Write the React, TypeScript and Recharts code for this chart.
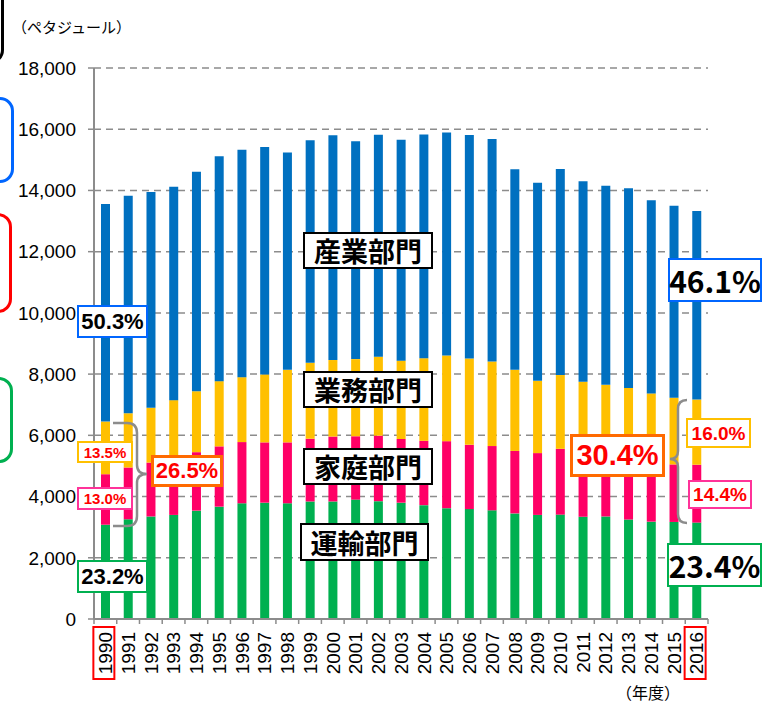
import React from "react";
import { BarChart, Bar, XAxis, YAxis, CartesianGrid } from "recharts";

// energy consumption by sector, petajoules, fiscal years 1990-2016
const years = [
  "1990", "1991", "1992", "1993", "1994", "1995", "1996", "1997", "1998", "1999",
  "2000", "2001", "2002", "2003", "2004", "2005", "2006", "2007", "2008", "2009",
  "2010", "2011", "2012", "2013", "2014", "2015", "2016",
];
const transport = [
  3080, 3260, 3350, 3400, 3540, 3670, 3780, 3800, 3780, 3840,
  3840, 3900, 3850, 3800, 3720, 3620, 3590, 3550, 3450, 3400,
  3410, 3340, 3350, 3250, 3180, 3170, 3150,
];
const residential = [
  1650, 1690, 1760, 1850, 1910, 1970, 2000, 1970, 1990, 2050,
  2120, 2070, 2140, 2080, 2100, 2190, 2100, 2100, 2040, 2020,
  2150, 2060, 1950, 1950, 1920, 1880, 1890,
];
const commercial = [
  1720, 1770, 1790, 1900, 1990, 2130, 2120, 2220, 2370, 2480,
  2500, 2520, 2580, 2560, 2700, 2800, 2820, 2760, 2650, 2360,
  2410, 2350, 2350, 2350, 2270, 2180, 2130,
];
const industry = [
  7110, 7110, 7050, 6970, 7170, 7350, 7430, 7430, 7100, 7270,
  7340, 7120, 7250, 7220, 7310, 7280, 7300, 7270, 6550, 6470,
  6730, 6550, 6500, 6520, 6310, 6270, 6160,
];
const yTicks = [0, 2000, 4000, 6000, 8000, 10000, 12000, 14000, 16000, 18000];
const boxedYears = ["1990", "2016"];

const data = years.map((y, i) => ({
  year: y,
  transport: transport[i],
  residential: residential[i],
  commercial: commercial[i],
  industry: industry[i],
}));

const W = 762;
const H = 704;
const PLOT_LEFT = 94;
const PLOT_RIGHT = 708;
const BAND = (PLOT_RIGHT - PLOT_LEFT) / years.length;
const LATIN = "'Liberation Sans', Arial, sans-serif";
const CJK = "'Noto Sans CJK JP', sans-serif";
const GRAY = "#8c8c8c";

function YearTick(props: any) {
  const { x, y, payload, index } = props;
  const half = BAND / 2;
  const ty = y + 13;
  return (
    <g>
      <line x1={x - half} y1={y} x2={x - half} y2={y + 5} stroke={GRAY} strokeWidth={1.5} />
      {index === years.length - 1 && (
        <line x1={x + half} y1={y} x2={x + half} y2={y + 5} stroke={GRAY} strokeWidth={1.5} />
      )}
      <text
        x={x}
        y={ty}
        dy="0.36em"
        transform={`rotate(-90 ${x} ${ty})`}
        textAnchor="end"
        fontSize={19}
        fontFamily={LATIN}
        fill="#000"
      >
        {payload.value}
      </text>
      {boxedYears.includes(payload.value) && (
        <rect x={x - 12} y={y + 8} width={21} height={52} fill="none" stroke="#ff0000" strokeWidth={2} />
      )}
    </g>
  );
}

function Tag({
  left, top, w, h, border, color = "#000", size, font = LATIN, bw = 2, children,
}: {
  left: number; top: number; w: number; h: number; border: string; color?: string;
  size: number; font?: string; bw?: number; children: React.ReactNode;
}) {
  return (
    <div
      style={{
        position: "absolute", left, top, width: w, height: h, boxSizing: "border-box",
        border: `${bw}px solid ${border}`, background: "#fff", color, fontSize: size,
        fontFamily: font, fontWeight: 700, display: "flex", alignItems: "center",
        justifyContent: "center", whiteSpace: "nowrap", lineHeight: 1,
      }}
    >
      {children}
    </div>
  );
}

function EdgeBox({ top, h, right, color }: { top: number; h: number; right: number; color: string }) {
  return (
    <div
      style={{
        position: "absolute", left: right - 120, top, width: 120, height: h,
        boxSizing: "border-box", border: `3px solid ${color}`, borderRadius: 14,
      }}
    />
  );
}

export default function App() {
  return (
    <div style={{ position: "absolute", left: 0, top: 0, width: W, height: H, background: "#fff", overflow: "hidden" }}>
      <BarChart width={W} height={H} data={data} margin={{ top: 68, right: W - PLOT_RIGHT, bottom: 0, left: 0 }}>
        <CartesianGrid vertical={false} stroke={GRAY} strokeDasharray="7 5" strokeWidth={1.5} />
        <XAxis
          dataKey="year"
          height={85}
          interval={0}
          tickSize={0}
          tickMargin={0}
          tickLine={false}
          axisLine={{ stroke: GRAY, strokeWidth: 2 }}
          tick={<YearTick />}
        />
        <YAxis
          type="number"
          width={PLOT_LEFT}
          domain={[0, 18000]}
          ticks={yTicks}
          interval={0}
          tickFormatter={(v: number) => v.toLocaleString("en-US")}
          tick={{ fontSize: 19, fill: "#000", fontFamily: LATIN }}
          tickSize={6}
          tickMargin={12}
          tickLine={{ stroke: GRAY, strokeWidth: 1.5 }}
          axisLine={{ stroke: GRAY, strokeWidth: 2 }}
        />
        <Bar dataKey="transport" stackId="s" fill="#00b050" barSize={9} isAnimationActive={false} />
        <Bar dataKey="residential" stackId="s" fill="#ff0066" barSize={9} isAnimationActive={false} />
        <Bar dataKey="commercial" stackId="s" fill="#ffc000" barSize={9} isAnimationActive={false} />
        <Bar dataKey="industry" stackId="s" fill="#0070c0" barSize={9} isAnimationActive={false} />
      </BarChart>

      {/* edges of neighbouring slide shapes, cut off at the left */}
      <EdgeBox top={-30} h={94} right={4} color="#000" />
      <EdgeBox top={97} h={86} right={14} color="#0066ff" />
      <EdgeBox top={213} h={100} right={12} color="#ff0000" />
      <EdgeBox top={377} h={86} right={13} color="#00b050" />

      <div style={{ position: "absolute", left: 12, top: 19, fontSize: 15, fontFamily: CJK, color: "#000", lineHeight: 1 }}>
        （ペタジュール）
      </div>
      <div style={{ position: "absolute", left: 616, top: 684, fontSize: 16, fontFamily: CJK, color: "#000", lineHeight: 1 }}>
        （年度）
      </div>

      <svg width={W} height={H} style={{ position: "absolute", left: 0, top: 0, pointerEvents: "none" }}>
        <path
          d="M113,423 L127,423 Q137,423 137,433 L137,465 Q137,474 147,474 Q137,474 137,483 L137,516 Q137,526 127,526 L113,526"
          fill="none" stroke={GRAY} strokeWidth={2.5}
        />
        <path
          d="M687,400 Q678,400 678,409 L678,451 Q678,459 670,459 Q678,459 678,467 L678,514 Q678,523 687,523"
          fill="none" stroke={GRAY} strokeWidth={2.5}
        />
      </svg>

      <Tag left={303} top={232} w={130} h={37} border="#000" size={27} font={CJK}>産業部門</Tag>
      <Tag left={303} top={371} w={130} h={37} border="#000" size={27} font={CJK}>業務部門</Tag>
      <Tag left={303} top={448} w={130} h={37} border="#000" size={27} font={CJK}>家庭部門</Tag>
      <Tag left={300} top={523} w={129} h={38} border="#000" size={27} font={CJK}>運輸部門</Tag>

      <Tag left={77} top={305} w={71} h={33} border="#0066ff" size={22}>50.3%</Tag>
      <Tag left={77} top={441} w={56} h={22} border="#ffc000" color="#ff0000" size={15}>13.5%</Tag>
      <Tag left={77} top={487} w={56} h={23} border="#ff3399" color="#ff0000" size={15}>13.0%</Tag>
      <Tag left={77} top={560} w={71} h={33} border="#00b050" size={22}>23.2%</Tag>
      <Tag left={151} top={455} w={72} h={32} border="#ff6a00" color="#ff0000" size={22} bw={3}>26.5%</Tag>

      <Tag left={668} top={258} w={94} h={44} border="#0066ff" size={30} font={CJK}>46.1%</Tag>
      <Tag left={570} top={434} w={95} h={43} border="#ff6a00" color="#ff0000" size={29} bw={3}>30.4%</Tag>
      <Tag left={686} top={418} w={65} h={30} border="#ffc000" color="#ff0000" size={19}>16.0%</Tag>
      <Tag left={688} top={480} w={64} h={29} border="#ff3399" color="#ff0000" size={19}>14.4%</Tag>
      <Tag left={667} top={543} w={95} h={44} border="#00b050" size={30} font={CJK}>23.4%</Tag>
    </div>
  );
}
